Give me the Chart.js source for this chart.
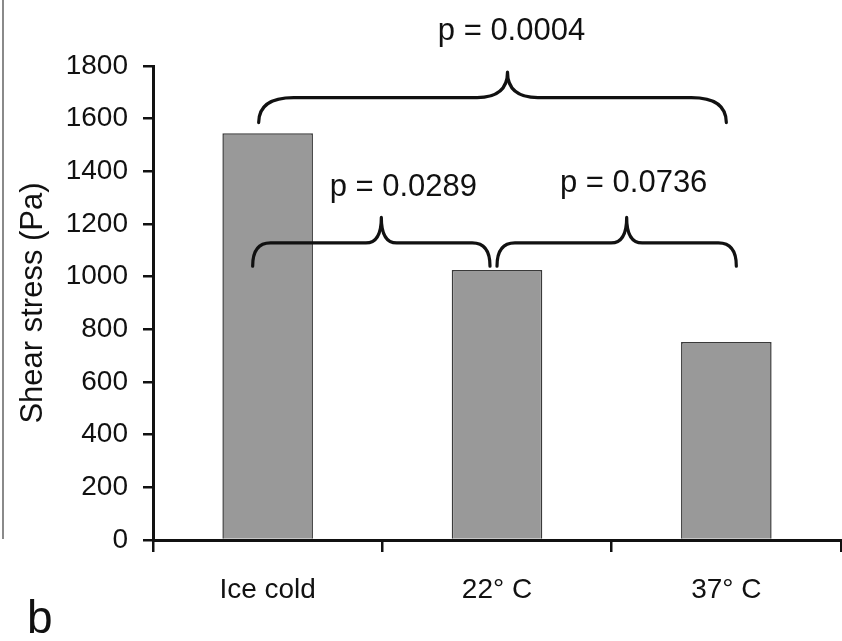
<!DOCTYPE html>
<html>
<head>
<meta charset="utf-8">
<script src="https://cdn.jsdelivr.net/npm/chart.js@4"></script>
<style>
html, body { margin: 0; padding: 0; background: #fff; }
#wrap { position: relative; width: 842px; height: 641px; overflow: hidden; }
#frame { position: absolute; left: 2px; top: -10px; width: 0; height: 549px; border-left: 2px solid #8a8a8a; }
#panel { position: absolute; left: 27px; top: 592px; font: 46px "Liberation Sans", Arial, sans-serif; color: #111; line-height: 50px; }
canvas { position: absolute; left: 0; top: 0; }
</style>
</head>
<body>
<div id="wrap">
  <canvas id="c" width="842" height="641"></canvas>
  <div id="frame"></div>
  <div id="panel">b</div>
</div>
<script>
// ---- data ----
const categories = ['Ice cold', '22° C', '37° C'];
const shearStress = [1545, 1025, 752];
const yMin = 0;
const yMax = 1800;
const yStep = 200;
const yTitle = 'Shear stress (Pa)';
const compareFrom = [0, 0, 1];
const compareTo = [2, 1, 2];
const pLabels = ['p = 0.0004', 'p = 0.0289', 'p = 0.0736'];

const FONT = '"Liberation Sans", Arial, Helvetica, sans-serif';

// brace geometry (styling / placement only)
const braceGeom = [
  { dl: -9, dr: 0, line: 1680, end: 1585, peak: 1777, dx: 15, base: 40, lx: 4 },
  { dl: -15, dr: -7, line: 1128, end: 1040, peak: 1225, dx: 10, base: 196, lx: 22 },
  { dl: 0, dr: 10, line: 1128, end: 1040, peak: 1225, dx: 10, base: 192, lx: 7 }
];

const bracePlugin = {
  id: 'braces',
  afterDatasetsDraw(chart) {
    const { ctx, scales: { x, y } } = chart;
    ctx.save();
    ctx.strokeStyle = '#111';
    ctx.lineWidth = 3.2;
    ctx.lineCap = 'round';
    ctx.lineJoin = 'round';
    for (let i = 0; i < pLabels.length; i++) {
      const g = braceGeom[i];
      const xL = x.getPixelForValue(compareFrom[i]) + g.dl;
      const xR = x.getPixelForValue(compareTo[i]) + g.dr;
      const w = xR - xL;
      const rEnd = 0.075 * w;
      const rPeak = 0.065 * w;
      const xm = (xL + xR) / 2 + g.dx;
      const yl = y.getPixelForValue(g.line);
      const ye = y.getPixelForValue(g.end);
      const yp = y.getPixelForValue(g.peak);
      ctx.beginPath();
      ctx.moveTo(xL, ye);
      ctx.quadraticCurveTo(xL, yl, xL + rEnd, yl);
      ctx.lineTo(xm - rPeak, yl);
      ctx.quadraticCurveTo(xm, yl, xm, yp);
      ctx.quadraticCurveTo(xm, yl, xm + rPeak, yl);
      ctx.lineTo(xR - rEnd, yl);
      ctx.quadraticCurveTo(xR, yl, xR, ye);
      ctx.stroke();

      ctx.fillStyle = '#111';
      ctx.font = '31px ' + FONT;
      ctx.textAlign = 'center';
      ctx.textBaseline = 'alphabetic';
      ctx.fillText(pLabels[i], xm + g.lx, g.base);
    }
    ctx.restore();
  }
};

new Chart(document.getElementById('c'), {
  type: 'bar',
  data: {
    labels: categories,
    datasets: [{
      data: shearStress,
      backgroundColor: '#999999',
      borderColor: '#3a3a3a',
      borderWidth: 1.5,
      barPercentage: 1,
      categoryPercentage: 0.395
    }]
  },
  options: {
    responsive: false,
    animation: false,
    devicePixelRatio: 1,
    layout: { padding: { left: 0, right: 1, top: 66, bottom: 0 } },
    plugins: { legend: { display: false }, tooltip: { enabled: false } },
    scales: {
      x: {
        afterFit(scale) { scale.height = 101; },
        border: { display: true, color: '#111', width: 3 },
        grid: {
          display: true, offset: true, drawOnChartArea: false, drawTicks: true,
          tickLength: 12, color: '#111', lineWidth: 2.5
        },
        ticks: { color: '#111', padding: 21, font: { family: FONT, size: 28 } }
      },
      y: {
        min: yMin, max: yMax,
        afterFit(scale) { scale.width = 153; },
        border: { display: true, color: '#111', width: 3 },
        grid: {
          display: true, drawOnChartArea: false, drawTicks: true,
          tickLength: 10, color: '#111', lineWidth: 2.5
        },
        ticks: {
          stepSize: yStep, color: '#111', padding: 15,
          font: { family: FONT, size: 28 },
          callback: (v) => String(v)
        },
        title: {
          display: true, text: yTitle, color: '#111',
          font: { family: FONT, size: 31 }, padding: { top: 15, bottom: 0 }
        }
      }
    }
  },
  plugins: [bracePlugin]
});
</script>
</body>
</html>
